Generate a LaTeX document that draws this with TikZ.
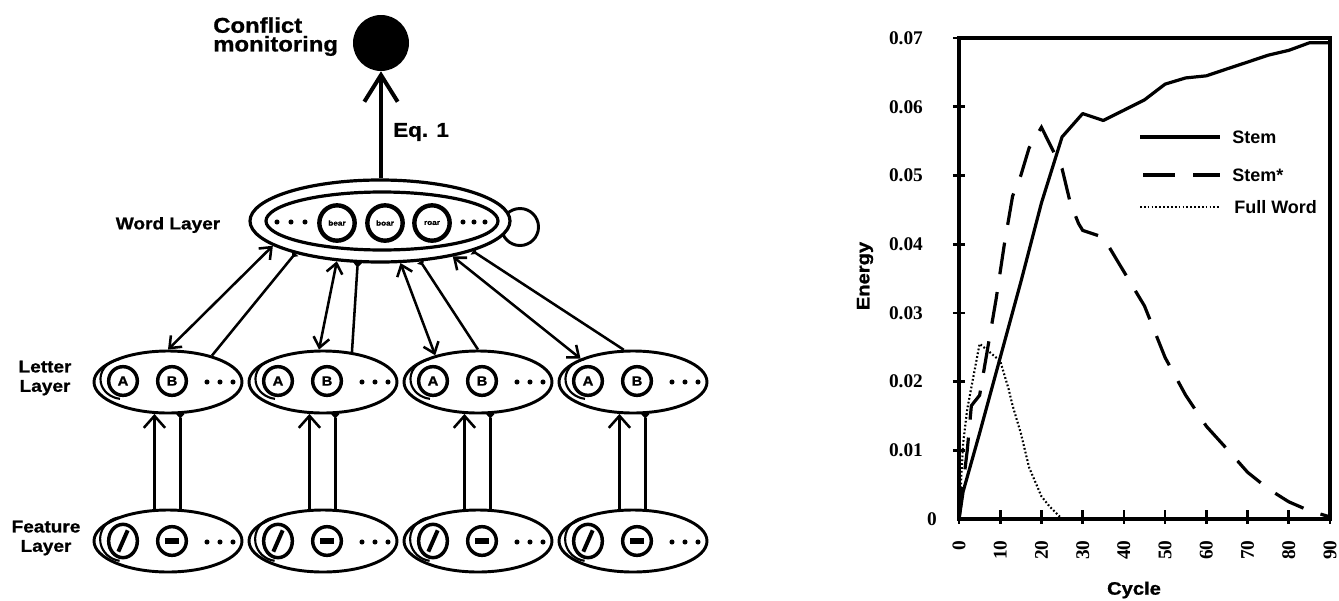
\documentclass[tikz,border=0pt]{standalone}
\usepackage{fontspec}
\setmainfont{Liberation Sans}
\newfontfamily\heavy{Liberation Sans}[UprightFont={* Bold}, FakeStretch=1.12, FakeBold=1]
\newfontfamily\serifbold{Liberation Serif}[UprightFont={* Bold}]
\usetikzlibrary{arrows.meta,shapes.geometric,calc}

\begin{document}
\begin{tikzpicture}[x=0.75pt,y=-0.75pt,
  layer/.style={draw, ellipse, line width=2.2pt, minimum width=111pt,
    minimum height=46.5pt, inner sep=0pt, fill=white},
  unit/.style={draw, circle, line width=2.6pt, minimum size=21.5pt,
    inner sep=0pt, font=\heavy\fontsize{10}{10}\selectfont},
  funit/.style={draw, ellipse, line width=2.6pt, minimum width=21.5pt,
    minimum height=25pt, inner sep=0pt},
  wunit/.style={draw, circle, line width=3.3pt, minimum size=26.5pt,
    inner sep=0pt, font=\heavy\fontsize{5.5}{5.5}\selectfont},
  dotnode/.style={circle, fill, inner sep=0pt, minimum size=3.8pt},
  lbl/.style={font=\heavy\fontsize{12.75}{14.5}\selectfont, align=center, inner sep=0pt},
  crescent/.style={line width=1.6pt},
  conn/.style={line width=1.9pt,
    {Straight Barb[length=7.5pt,width=12pt]}-{Straight Barb[length=7.5pt,width=12pt]}},
  inhib/.style={line width=1.9pt, -{Triangle[reversed,length=3.5pt,width=6pt]}},
  upconn/.style={line width=1.9pt, -{Straight Barb[length=9pt,width=16pt]}},
  axisline/.style={line width=2.6pt},
  tickline/.style={line width=2pt},
  ticklbl/.style={font=\serifbold\fontsize{14.5}{14.5}\selectfont, inner sep=0pt},
  axtitle/.style={font=\heavy\fontsize{13.5}{13.5}\selectfont, inner sep=0pt},
  legtext/.style={font=\bfseries\fontsize{13.5}{13.5}\selectfont, anchor=west, inner sep=0pt},
  stemline/.style={line width=2.4pt, line join=round},
  stemstarline/.style={line width=2.4pt, dash pattern=on 24pt off 13.5pt},
  fullline/.style={line width=1.6pt, dash pattern=on 1.3pt off 1.6pt}
]
\useasboundingbox (0,0) rectangle (1339,600);

% ---------------- network ----------------
% conflict monitoring unit
\node[circle, fill, minimum size=42pt, inner sep=0pt] (C) at (381,43) {};
\node[anchor=north west, align=left, inner sep=0pt,
      font=\heavy\fontsize{16}{14}\selectfont] (ctext) at (213,17) {Conflict\\monitoring};

% word layer with its self-connection
\node[draw, circle, line width=2.2pt, minimum size=27.75pt, inner sep=0pt] (loop) at (520,227) {};
\node[draw, ellipse, fill=white, line width=2.4pt, minimum width=195pt,
      minimum height=61.5pt, inner sep=0pt] (W) at (380,221) {};
\node[draw, ellipse, line width=2.4pt, minimum width=174pt,
      minimum height=43.5pt, inner sep=0pt] (Win) at (382,221) {};
\node[wunit] (w1) at (337,223) {bear};
\node[wunit] (w2) at (385,223) {boar};
\node[wunit] (w3) at (432,223) {roar};
\foreach \k/\xx in {1/277,2/291,3/305} \node[dotnode] (wl\k) at (\xx,222) {};
\foreach \k/\xx in {1/463,2/474,3/485} \node[dotnode] (wr\k) at (\xx,222) {};
\node[lbl] (wlabel) at (168,225) {Word Layer};

% output of the word layer
\draw[line width=3pt, -{Straight Barb[length=20pt,width=25pt,line width=3pt]}]
  (C.south |- W.north) -- (C.south);
\node[anchor=west, inner sep=0pt, font=\heavy\fontsize{15}{15}\selectfont] (eq) at (393,132) {Eq. 1};

% letter and feature layers
\foreach \i/\cx in {1/168,2/323,3/478,4/633} {
  \node[layer] (L\i) at (\cx,382) {};
  \node[unit] (LA\i) at (\cx-45,381) {A};
  \node[unit] (LB\i) at (\cx+4,381) {B};
  \foreach \k in {0,1,2} \node[dotnode] (Ld\i\k) at (\cx+39+13*\k,382) {};
  \draw[crescent] ([shift={(100:16.5pt)}]LA\i.center)
     arc[start angle=100, end angle=262, x radius=17pt, y radius=15pt];

  \node[layer] (F\i) at (\cx,541) {};
  \node[funit] (FA\i) at (\cx-45,541) {};
  \node[unit] (FB\i) at (\cx+4,541) {};
  \draw[line width=3pt] ([shift={(-3.5pt,-8pt)}]FA\i.center) -- ([shift={(3.5pt,8pt)}]FA\i.center);
  \draw[line width=4pt] ([shift={(-5pt,0pt)}]FB\i.center) -- ([shift={(5pt,0pt)}]FB\i.center);
  \foreach \k in {0,1,2} \node[dotnode] (Fd\i\k) at (\cx+39+13*\k,542) {};
  \draw[crescent] ([shift={(100:18pt)}]FA\i.center)
     arc[start angle=100, end angle=262, x radius=17pt, y radius=16.5pt];

  % feature -> letter connections
  \draw[upconn] (F\i.113) -- (L\i.247);
  \draw[inhib] (F\i.69) -- (L\i.291);
}

\node[lbl] (llabel) at (45,378) {Letter\\Layer};
\node[lbl] (flabel) at (46,538) {Feature\\Layer};

% letter <-> word connections
\draw[conn]  (L1.90)  -- (W.193);
\draw[inhib] (L1.31)  -- (W.201);
\draw[conn]  (L2.97)  -- (W.223);
\draw[inhib] (L2.46)  -- (W.242);
\draw[conn]  (L3.148) -- (W.296);
\draw[inhib] (L3.90)  -- (W.315);
\draw[conn]  (L4.156) -- (W.334);
\draw[inhib] (L4.106) -- (W.342);

% ---------------- energy plot ----------------
\begin{scope}[shift={(959,519)}, x=3.0915pt, y=5153.25pt]
  \draw[axisline] (0,0) rectangle (90,0.07);
  \draw[line width=3pt] (0,0.07) -- (0,0) -- (90,0);
  \foreach \v/\t in {0.01/0.01,0.02/0.02,0.03/0.03,0.04/0.04,0.05/0.05,0.06/0.06,0.07/0.07} {
    \draw[tickline] (-1.5,\v) -- (1.5,\v);
    \node[ticklbl, anchor=east] (yl\t) at (-8.7,\v) {\t};
  }
  \node[ticklbl, anchor=east] (yl0) at (-5.3,0) {0};
  \foreach \c in {0,10,...,90} {
    \draw[tickline] (\c,-0.0007) -- (\c,0.0013);
    \node[ticklbl, rotate=90, anchor=east] (xl\c) at (\c,-0.0031) {\c};
  }

  % Full Word
  \draw[fullline] plot coordinates {(0,0) (1,0.011) (2,0.016) (5,0.0255) (7,0.0245)
    (10,0.023) (12,0.019) (13,0.0165) (15,0.0125) (17,0.0075) (20,0.0033)
    (22,0.0018) (24,0.0006) (25,0)};
  % Stem*
  \draw[stemstarline] plot coordinates {(0,0) (2,0.01) (3,0.0165) (5,0.018) (7,0.025)
    (9,0.032) (11,0.04) (13,0.047) (15,0.05) (17,0.054) (20,0.057) (25,0.051)
    (27,0.046) (29,0.043) (30,0.042) (35,0.041) (38,0.038) (42,0.034) (45,0.031)
    (50,0.0235) (55,0.018) (60,0.0135) (65,0.0102) (70,0.0068) (75,0.0044)
    (80,0.0025) (85,0.0012) (90,0.0003)};
  % Stem
  \draw[stemline] plot coordinates {(0,0) (1,0.004) (5,0.0125) (10,0.0235) (15,0.0345)
    (20,0.046) (25,0.0556) (30,0.059) (35,0.058) (40,0.0595) (45,0.061) (50,0.0633)
    (55,0.0642) (60,0.0645) (65,0.0655) (70,0.0665) (75,0.0675) (80,0.0682)
    (85,0.0693) (90,0.0693)};
\end{scope}

\node[axtitle, rotate=90] (ytitle) at (865,276) {Energy};
\node[axtitle] (xtitle) at (1134,590) {Cycle};

% legend
\coordinate (s1a) at (1140,137); \coordinate (s1b) at (1220,137);
\coordinate (s2a) at (1143,175); \coordinate (s2b) at (1220,175);
\coordinate (s3a) at (1140,207); \coordinate (s3b) at (1220,207);
\draw[stemline] (s1a) -- (s1b);
\draw[stemstarline] (s2a) -- (s2b);
\draw[fullline] (s3a) -- (s3b);
\node[legtext] (t1) at (1232,137) {Stem};
\node[legtext] (t2) at (1232,175) {Stem*};
\node[legtext] (t3) at (1234,207) {Full Word};
\end{tikzpicture}
\end{document}
